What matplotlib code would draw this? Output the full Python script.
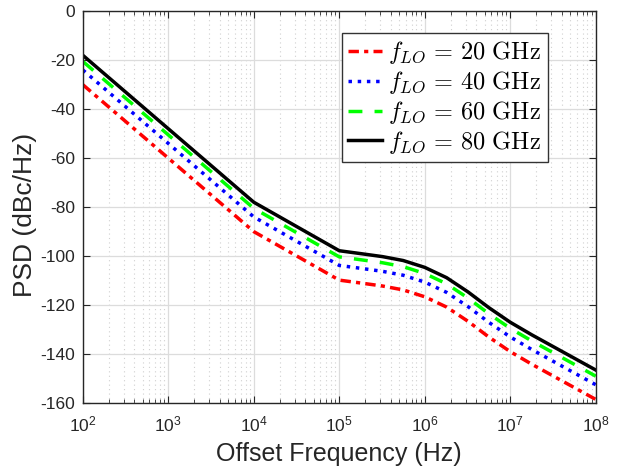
import matplotlib
matplotlib.use("Agg")
import matplotlib.pyplot as plt
from matplotlib.ticker import FixedLocator, LogLocator, NullFormatter, LogFormatterSciNotation

plt.rcParams['font.family'] = ['Liberation Sans', 'DejaVu Sans']
plt.rcParams['mathtext.fontset'] = 'custom'
plt.rcParams['mathtext.rm'] = 'Liberation Sans'
plt.rcParams['mathtext.it'] = 'Liberation Sans:italic'
plt.rcParams['axes.unicode_minus'] = False

# 偏移频率 (Hz)
freq = [1e2, 1e3, 1e4, 1e5, 1.8e5, 3.2e5, 5.6e5, 1e6, 1.8e6, 3.2e6, 5.6e6, 1e7, 1.8e7, 1e8]

# 各本振频率下的相位噪声 (dBc/Hz)
psd_20 = [-30, -60, -90, -109.8, -111, -112.2, -113.8, -116.6, -120.8, -126.6, -133, -139, -144.2, -158.5]
psd_40 = [-24, -54, -84, -103.8, -105, -106.2, -107.8, -110.6, -114.8, -120.6, -127, -133, -138.2, -152.5]
psd_60 = [-20.5, -50.5, -80.5, -100.3, -101.5, -102.7, -104.3, -107.1, -111.3, -117.1, -123.5, -129.5, -134.7, -149]
psd_80 = [-18, -48, -78, -97.8, -99, -100.2, -101.8, -104.6, -108.8, -114.6, -121, -127, -132.2, -146.5]

# 坐标轴刻度
x_ticks = [1e2, 1e3, 1e4, 1e5, 1e6, 1e7, 1e8]
y_ticks = [-160, -140, -120, -100, -80, -60, -40, -20, 0]

labels = [r'$f_{LO}\,=\,20\ \mathrm{GHz}$', r'$f_{LO}\,=\,40\ \mathrm{GHz}$',
          r'$f_{LO}\,=\,60\ \mathrm{GHz}$', r'$f_{LO}\,=\,80\ \mathrm{GHz}$']

fig = plt.figure(figsize=(6.18, 4.66), dpi=100)
ax = fig.add_axes([0.134, 0.135, 0.830, 0.841])

ax.semilogx(freq, psd_20, color='red', linewidth=2.5, dashes=(3, 1.5, 1.2, 1.5), label=labels[0])
ax.semilogx(freq, psd_40, ':', color='blue', linewidth=2.5, label=labels[1])
ax.semilogx(freq, psd_60, color=(0, 1, 0), linewidth=2.5, dashes=(4, 3.5), label=labels[2])
ax.semilogx(freq, psd_80, '-', color='black', linewidth=2.5, label=labels[3])

ax.set_xlim(1e2, 1e8)
ax.set_ylim(-160, 0)
ax.set_yticks(y_ticks)
ax.xaxis.set_major_locator(FixedLocator(x_ticks))
ax.xaxis.set_major_formatter(LogFormatterSciNotation(base=10))
ax.xaxis.set_minor_locator(LogLocator(base=10, subs=range(2, 10), numticks=100))
ax.xaxis.set_minor_formatter(NullFormatter())

# MATLAB 风格网格
ax.grid(True, which='major', color='#dcdcdc', linewidth=0.9, linestyle='-')
ax.grid(True, which='minor', axis='x', color='#d0d0d0', linewidth=0.8, linestyle=(0, (1, 3)))
ax.set_axisbelow(True)

for s in ax.spines.values():
    s.set_color('#262626')
    s.set_linewidth(1.0)
ax.tick_params(which='both', direction='in', top=True, right=True, colors='#262626',
               labelsize=12.5, labelcolor='#262626')
ax.tick_params(which='major', length=5)
ax.tick_params(which='minor', length=3)
ax.tick_params(axis='x', which='major', pad=8)
ax.tick_params(axis='y', which='major', pad=5.5)

ax.set_xlabel('Offset Frequency (Hz)', fontsize=18, color='#262626', labelpad=6)
ax.set_ylabel('PSD (dBc/Hz)', fontsize=19, color='#262626')
ax.yaxis.set_label_coords(-0.09, 0.48)

leg = ax.legend(loc='upper right', bbox_to_anchor=(0.906, 0.944), fancybox=False,
                framealpha=1, edgecolor='#333333', handlelength=1.4, handletextpad=0.25,
                borderpad=0.25, labelspacing=0.12, borderaxespad=0,
                prop=dict(size=17.5, math_fontfamily='cm'))
leg.get_frame().set_linewidth(1.0)

fig.savefig('out.png', dpi=100)
